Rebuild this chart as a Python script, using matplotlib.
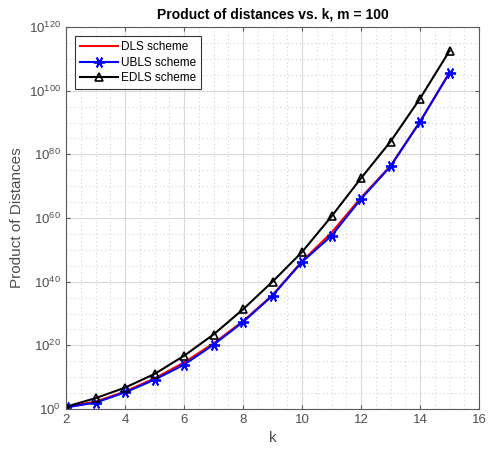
import matplotlib
matplotlib.use("Agg")
import matplotlib.pyplot as plt
import numpy as np
from matplotlib.ticker import FixedLocator, MultipleLocator, FuncFormatter

plt.rcParams['font.family'] = ['Liberation Sans', 'DejaVu Sans']
plt.rcParams['mathtext.fontset'] = 'custom'
plt.rcParams['mathtext.rm'] = 'Liberation Sans'

k = [2, 3, 4, 5, 6, 7, 8, 9, 10, 11, 12, 13, 14, 15]
# log10 of product of distances
dls_exp = [0.6, 2.3, 5.5, 9.6, 14.6, 20.6, 27.6, 35.8, 46.4, 55.4, 66.4, 76.4, 90.3, 105.7]
ubls_exp = [0.5, 2.0, 5.2, 9.2, 13.9, 20.2, 27.3, 35.6, 46.2, 54.4, 66.0, 76.2, 90.2, 105.6]
edls_exp = [0.7, 3.4, 6.7, 11.0, 16.7, 23.4, 31.3, 40.0, 49.3, 60.5, 72.5, 84.0, 97.5, 112.5]

dls = 10.0 ** np.array(dls_exp)
ubls = 10.0 ** np.array(ubls_exp)
edls = 10.0 ** np.array(edls_exp)

fig = plt.figure(figsize=(4.93, 4.63), dpi=100)
ax = fig.add_axes([66/493, 1 - 409/463, (479-66)/493, (409-27)/463])

ax.plot(k, dls, color='red', lw=1.5, label='DLS scheme')
ax.plot(k, ubls, color='blue', lw=1.5, marker=(6, 2, 90), ms=8, mew=1.3, label='UBLS scheme')
ax.plot(k, edls, color='black', lw=1.5, marker='^', ms=6, mfc='none', mew=1.2, label='EDLS scheme')

ax.set_yscale('log')
ax.set_xlim(2, 16)
ax.set_ylim(1, 1e120)
ax.set_xticks(np.arange(2, 17, 2))
ax.xaxis.set_minor_locator(MultipleLocator(0.5))
ax.yaxis.set_major_locator(FixedLocator(10.0 ** np.arange(0, 121, 20)))
ax.yaxis.set_minor_locator(FixedLocator(10.0 ** np.arange(0, 121, 5)))
ax.yaxis.set_major_formatter(FuncFormatter(lambda v, p: r'$10^{%d}$' % round(np.log10(v))))
ax.yaxis.set_minor_formatter(FuncFormatter(lambda v, p: ''))

ax.grid(True, which='major', color='#d9d9d9', lw=0.8, ls='-')
ax.grid(True, which='minor', color='#c8c8c8', lw=0.7, ls=(0, (1, 3)))
ax.set_axisbelow(True)

gray = '#4d4d4d'
for s in ax.spines.values():
    s.set_color('#5a5a5a')
    s.set_linewidth(0.8)
ax.tick_params(which='both', direction='in', top=True, right=True, colors='#5a5a5a', labelcolor=gray, labelsize=9.5)
ax.tick_params(which='major', length=3)
ax.tick_params(which='minor', length=0)

ax.set_xlabel('k', fontsize=11, color=gray)
ax.set_ylabel('Product of Distances', fontsize=11, color=gray)
ax.set_title('Product of distances vs. k, m = 100', fontsize=10, fontweight='bold', color='black', pad=6)

leg = ax.legend(loc='upper left', fontsize=8.5, frameon=True, fancybox=False, edgecolor='black',
                borderaxespad=0.8, handlelength=3.2, handletextpad=0.3, labelspacing=0.3, borderpad=0.4)
leg.get_frame().set_linewidth(0.8)

fig.savefig('out.png', dpi=100, facecolor='white')
